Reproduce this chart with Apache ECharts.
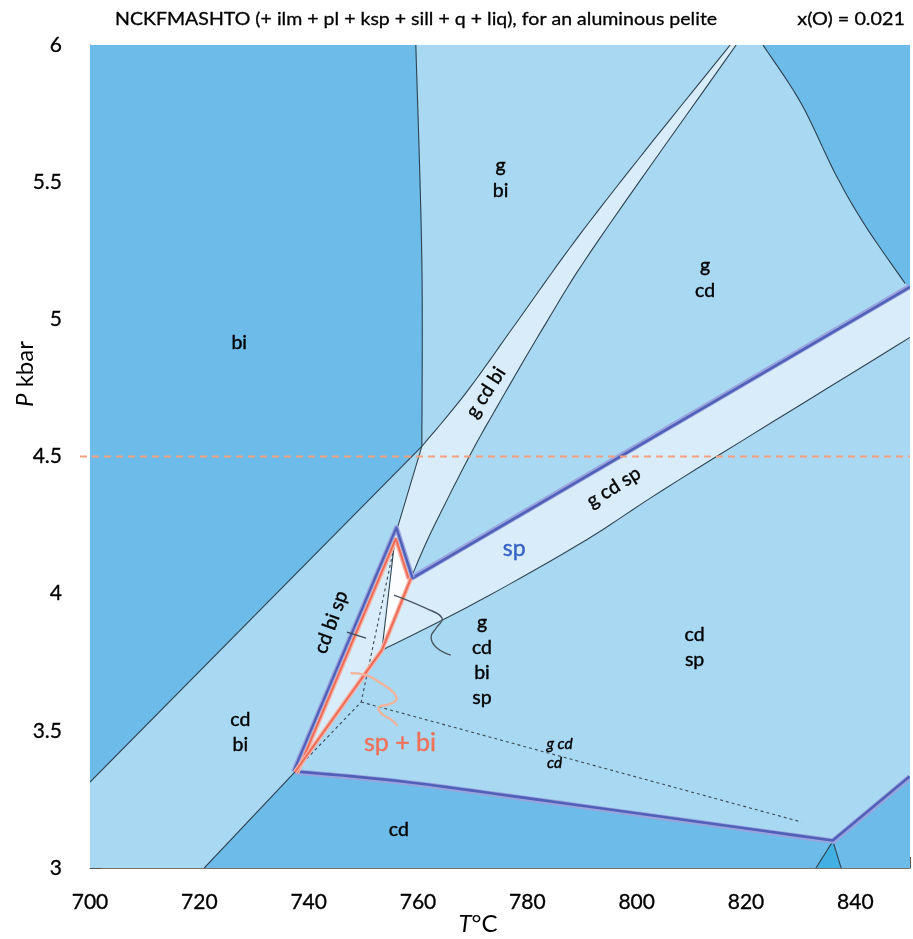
<!DOCTYPE html>
<html><head><meta charset="utf-8">
<script src="https://cdn.jsdelivr.net/npm/echarts@6/dist/echarts.min.js"></script>
<style>html,body{margin:0;padding:0;background:#fff}#c{width:913px;height:939px}</style>
</head><body><div id="c"></div><script>
// ---- axis ticks ----
const xTicks = [700, 720, 740, 760, 780, 800, 820, 840];
const yTicks = [3, 3.5, 4, 4.5, 5, 5.5, 6];

// ---- phase fields, vertices as [T (°C), P (kbar)] ----
const domain = [[700,3],[850,3],[850,6],[700,6]];
const biField = [[700,6],[759.6,6],[760.7,5.215],[760.7,4.537],[700,3.313]];
const gcdbiBand = [[817.1,6],[801.6,5.616],[788.8,5.288],[777.9,4.985],[768.7,4.730],[760.7,4.537],[756.0,4.224],
                   [758.7,4.056],[762.3,4.220],[769.3,4.497],[774.4,4.679],[783.5,4.989],[793.0,5.288],[818.2,6]];
const topRightField = [[850,6],[850,5.12],[849.1,5.131],[841.8,5.342],[836.3,5.532],[830.1,5.787],[823.1,6]];
const gcdspBand = [[758.7,4.056],[850,5.12],[850,4.934],[807.6,4.413],[790.7,4.195],[771.1,3.973],[753.4,3.794]];
const cdField = [[720.9,3],[737.5,3.350],[757.2,3.313],[781.9,3.247],[835.9,3.098],[832.8,3]];
const bottomRightField = [[835.9,3.098],[850,3.332],[850,3],[837.4,3]];
const cyanField = [[832.8,3],[835.9,3.098],[837.4,3]];
const cdbispField = [[756.0,4.224],[753.4,3.794],[737.5,3.350]];
const gcdbispField = [[756.0,4.224],[758.7,4.056],[753.4,3.794]];

// ---- boundaries ----
const biUpperLine = [[759.6,6],[760.7,5.215],[760.7,4.537]];
const biLowerLine = [[700,3.313],[760.7,4.537]];
const bandLeftLine = [[817.1,6],[801.6,5.616],[788.8,5.288],[777.9,4.985],[768.7,4.730],[760.7,4.537],[756.0,4.224]];
const bandRightLine = [[818.2,6],[793.0,5.288],[783.5,4.989],[774.4,4.679],[769.3,4.497],[762.3,4.220],[758.7,4.056]];
const gcdLimitLine = [[823.1,6],[830.1,5.787],[836.3,5.532],[841.8,5.342],[849.1,5.131]];
const spBandLowerLine = [[753.4,3.794],[771.1,3.973],[790.7,4.195],[807.6,4.413],[850,4.934]];
const cdbiLimitLine = [[720.9,3],[737.5,3.350]];
const cyanLine = [[832.8,3],[835.9,3.098],[837.4,3]];
const innerLine = [[755.6,4.169],[753.4,3.794]];
const spUpperLine = [[758.7,4.056],[850,5.12]];
const spLowerLine = [[737.5,3.350],[757.2,3.313],[781.9,3.247],[835.9,3.098],[850,3.332]];
const spApexLine = [[737.5,3.350],[756.0,4.224],[758.7,4.056]];
const spbiInnerLine = [[758.7,4.056],[753.4,3.794],[737.5,3.350]];
const dashedLineA = [[755.6,4.169],[749.6,3.605],[739.0,3.385]];
const dashedLineB = [[749.6,3.605],[830.1,3.168]];
const sectionLine = [[700,4.5],[850,4.5]];
const leaderCdbisp = [[747.0,3.860],[750.5,3.838]];
const leaderGcdbisp = [[755.6,3.995],[761.4,3.947],[764.4,3.911],[763.3,3.874],[762.4,3.842],[763.3,3.805],[766.0,3.776]];
const leaderSpbi = [[747.8,3.710],[750.5,3.703],[752.9,3.678],[755.6,3.638],[756.0,3.612],[754.7,3.597],[752.9,3.587],[753.2,3.565],[755.2,3.539],[756.1,3.521]];

// ---- field labels ----
const labelTexts = ['bi','g\nbi','g\ncd','g cd bi','g cd sp','sp','g\ncd\nbi\nsp','cd\nsp','cd bi sp','cd\nbi','sp + bi','g cd','cd','cd'];
const labelAnchors = [[727.3,4.913],[775.1,5.514],[812.5,5.149],[772.4,4.734],[795.8,4.388],[777.6,4.166],[771.7,3.758],[810.6,3.805],[744.1,3.896],[727.5,3.495],[756.7,3.455],[785.9,3.452],[785.0,3.383],[756.5,3.138]];

// ---------- styling / rendering ----------
const FONT = 'Lato, "DejaVu Sans", sans-serif';
const labelRot   = [0,0,0,57,32,0,0,0,70,0,0,0,0,0];
const labelColor = ['#000','#000','#000','#000','#000','#3563c4','#000','#000','#000','#000','#f0705a','#000','#000','#000'];
const labelSize  = [19.5,19.5,19.5,19.5,19.5,23,19.5,19.5,19.5,19.5,25,15.5,15.5,19.5];
const labelItal  = [0,0,0,0,0,0,0,0,0,0,0,1,1,0];

const C_DARK = '#6dbbe8', C_LIGHT = '#a8d8f2', C_BAND = '#d8edf9', C_WHITE = '#fbfdff', C_CYAN = '#42b0e2';
const C_LINE = '#2f4452';

// Catmull-Rom smoothing of index runs in pixel space (rendering only)
function catmull(pts){
  const out=[pts[0]];
  for (let i=0;i<pts.length-1;i++){
    const p0=pts[Math.max(0,i-1)], p1=pts[i], p2=pts[i+1], p3=pts[Math.min(pts.length-1,i+2)];
    for (let k=1;k<=10;k++){
      const t=k/10, t2=t*t, t3=t2*t;
      out.push([0.5*((2*p1[0])+(-p0[0]+p2[0])*t+(2*p0[0]-5*p1[0]+4*p2[0]-p3[0])*t2+(-p0[0]+3*p1[0]-3*p2[0]+p3[0])*t3),
                0.5*((2*p1[1])+(-p0[1]+p2[1])*t+(2*p0[1]-5*p1[1]+4*p2[1]-p3[1])*t2+(-p0[1]+3*p1[1]-3*p2[1]+p3[1])*t3)]);
    }
  }
  return out;
}
function smoothRuns(pp, runs){
  if (!runs || !runs.length) return pp;
  const out=[]; let i=0;
  runs = runs.slice().sort((a,b)=>a[0]-b[0]);
  for (const [a,b] of runs){
    while (i<a) out.push(pp[i++]);
    const seg = catmull(pp.slice(a,b+1));
    for (const p of seg) out.push(p);
    i=b+1;
  }
  while (i<pp.length) out.push(pp[i++]);
  return out;
}
function polySeries(pts, fill, runs) {
  return {type:'custom', coordinateSystem:'cartesian2d', silent:true, clip:true, z:1, data:pts,
    renderItem(params, api){
      if (params.dataIndex !== 0) return null;
      let pp = [];
      for (let i=0;i<pts.length;i++) pp.push(api.coord([api.value(0,i), api.value(1,i)]));
      pp = smoothRuns(pp, runs);
      return {type:'polygon', shape:{points:pp}, style:{fill:fill, stroke:fill, lineWidth:0.6}};
    }};
}
function intersect(s1, s2){
  const [a,b]=s1,[c,d]=s2;
  const d1x=b[0]-a[0], d1y=b[1]-a[1], d2x=d[0]-c[0], d2y=d[1]-c[1];
  const den = d1x*d2y - d1y*d2x;
  if (Math.abs(den) < 1e-9) return null;
  const t = ((c[0]-a[0])*d2y - (c[1]-a[1])*d2x)/den;
  return [a[0]+t*d1x, a[1]+t*d1y];
}
function offsetPath(P, d){
  if (!d) return P;
  const segs=[];
  for (let i=0;i<P.length-1;i++){
    const dx=P[i+1][0]-P[i][0], dy=P[i+1][1]-P[i][1], L=Math.hypot(dx,dy)||1;
    const nx=dy/L*d, ny=-dx/L*d;
    segs.push([[P[i][0]+nx,P[i][1]+ny],[P[i+1][0]+nx,P[i+1][1]+ny]]);
  }
  const out=[segs[0][0]];
  for (let i=0;i<segs.length-1;i++){ out.push(intersect(segs[i],segs[i+1]) || segs[i][1]); }
  out.push(segs[segs.length-1][1]);
  return out;
}
function lineSeries(pts, st, z){
  return {type:'custom', coordinateSystem:'cartesian2d', silent:true, clip:!st.noclip, z:z||2, data:pts,
    renderItem(params, api){
      if (params.dataIndex !== 0) return null;
      let pp = [];
      for (let i=0;i<pts.length;i++) pp.push(api.coord([api.value(0,i), api.value(1,i)]));
      pp = smoothRuns(pp, st.runs);
      pp = offsetPath(pp, st.offset||0);
      if (st.extendLeft) { pp[0] = [pp[0][0]-st.extendLeft, pp[0][1]]; }
      return {type:'polyline', shape:{points:pp, smooth:st.smooth||0},
        style:{fill:null, stroke:st.color, lineWidth:st.width, lineDash:st.dash||null, lineCap:st.cap||'butt', lineJoin:'round', opacity:st.opacity==null?1:st.opacity}};
    }};
}
function labelSeries(){
  return {type:'custom', coordinateSystem:'cartesian2d', silent:true, clip:false, z:10, data:labelAnchors,
    renderItem(params, api){
      const i = params.dataIndex;
      const p = api.coord([api.value(0), api.value(1)]);
      const sz = labelSize[i];
      return {type:'text', x:p[0], y:p[1], rotation: labelRot[i]*Math.PI/180,
        style:{text:labelTexts[i], fill:labelColor[i], fontSize:sz, fontFamily:FONT,
          fontStyle: labelItal[i] ? 'italic' : 'normal', align:'center', verticalAlign:'middle',
          stroke: labelColor[i], lineWidth: 0.4,
          lineHeight: sz < 17 ? 20 : 25}};
    }};
}

const thinSt = {color:C_LINE, width:1.1};
const thinSm = (r) => ({color:C_LINE, width:1.1, runs:r});
const series = [
  polySeries(domain, C_LIGHT),
  polySeries(biField, C_DARK, [[1,3]]),
  polySeries(topRightField, C_DARK, [[2,6]]),
  polySeries(cdField, C_DARK, [[1,4]]),
  polySeries(bottomRightField, C_DARK),
  polySeries(cyanField, C_CYAN),
  polySeries(gcdbiBand, C_BAND, [[0,5],[7,13]]),
  polySeries(gcdspBand, C_BAND, [[2,6]]),
  polySeries(cdbispField, C_BAND),
  polySeries(gcdbispField, C_WHITE),
  lineSeries(biUpperLine, thinSm([[0,2]])),
  lineSeries(biLowerLine, thinSt),
  lineSeries(bandLeftLine, thinSm([[0,5]])),
  lineSeries(bandRightLine, thinSm([[0,6]])),
  lineSeries(gcdLimitLine, thinSm([[0,4]])),
  lineSeries(spBandLowerLine, thinSm([[0,4]])),
  lineSeries(cdbiLimitLine, thinSt),
  lineSeries(cyanLine, thinSt),
  lineSeries(innerLine, thinSt),
  lineSeries(dashedLineA, {color:'#3c4a55', width:1.1, dash:[3,3]}),
  lineSeries(dashedLineB, {color:'#3c4a55', width:1.1, dash:[3,3]}),
  // thick sp-out lines
  lineSeries(spUpperLine, {color:'#9aa4de', width:5.5}, 3),
  lineSeries(spUpperLine, {color:'#5060b8', width:2.6, offset:-0.6}, 3),
  lineSeries(spLowerLine, {color:'#9aa4de', width:5.5, runs:[[0,3]]}, 3),
  lineSeries(spLowerLine, {color:'#5060b8', width:2.6, offset:0.6, runs:[[0,3]]}, 3),
  lineSeries(spApexLine, {color:'#9aa4de', width:5, offset:1.6}, 3),
  lineSeries(spApexLine, {color:'#5060b8', width:2.3, offset:1.6}, 3),
  // sp + bi field outline (red)
  lineSeries(spApexLine, {color:'#f6b3a6', width:4, offset:-2.6}, 4),
  lineSeries(spApexLine, {color:'#ee6b57', width:2, offset:-2.2}, 4),
  lineSeries(spbiInnerLine, {color:'#f6b3a6', width:4.5}, 4),
  lineSeries(spbiInnerLine, {color:'#ee6b57', width:2}, 4),
  // section line
  lineSeries(sectionLine, {color:'#f5a07e', width:2, dash:[7,5], extendLeft:10, noclip:true}, 5),
  // leaders
  lineSeries(leaderCdbisp, {color:'#3d4a55', width:1.2}, 6),
  lineSeries(leaderGcdbisp, {color:'#4a5762', width:1.4, smooth:0.45}, 6),
  lineSeries(leaderSpbi, {color:'#f3b39b', width:2.3, smooth:0.45, cap:'round'}, 6),
  labelSeries()
];

const axLabel = {fontSize:21, fontFamily:FONT, color:'#000', textBorderColor:'#000', textBorderWidth:0.3};
const chart = echarts.init(document.getElementById('c'), null, {renderer:'canvas'});
chart.setOption({
  animation:false,
  backgroundColor:'#fff',
  grid:{left:90, right:2, top:45, bottom:71, containLabel:false},
  xAxis:[
    {type:'value', min:xTicks[0], max:850, interval:xTicks[1]-xTicks[0], position:'bottom',
     axisLine:{show:true, lineStyle:{color:'#7d7069', width:1}},
     axisTick:{show:true, inside:true, length:11, lineStyle:{color:'#5c5650', width:1}},
     axisLabel:Object.assign({margin:24, formatter:v => xTicks.indexOf(v) >= 0 ? String(v) : ''}, axLabel),
     splitLine:{show:false}},
    {type:'value', min:700, max:850, interval:5, position:'bottom',
     axisLine:{show:false}, axisLabel:{show:false},
     axisTick:{show:true, inside:true, length:6, lineStyle:{color:'#5c5650', width:1}},
     splitLine:{show:false}}
  ],
  yAxis:{type:'value', min:yTicks[0], max:yTicks[yTicks.length-1], interval:yTicks[1]-yTicks[0],
     axisLine:{show:true, lineStyle:{color:'#7d7069', width:1}},
     axisTick:{show:true, inside:true, length:11, lineStyle:{color:'#5c5650', width:1}},
     minorTick:{show:true, splitNumber:5, length:6, lineStyle:{color:'#5c5650', width:1}},
     axisLabel:Object.assign({margin:28}, axLabel),
     splitLine:{show:false}},
  series: series,
  graphic:[
    {type:'text', x:115, y:19, z:100, scaleX:1.085, style:{text:'NCKFMASHTO (+ ilm + pl + ksp + sill + q + liq), for an aluminous pelite',
      fontSize:18, fontFamily:FONT, fill:'#000', stroke:'#000', lineWidth:0.3, align:'left', verticalAlign:'middle'}},
    {type:'text', x:905, y:19, z:100, scaleX:1.1, style:{text:'x(O) = 0.021', fontSize:18, fontFamily:FONT, fill:'#000', stroke:'#000', lineWidth:0.3, align:'right', verticalAlign:'middle'}},
    {type:'text', x:478, y:924, z:100, style:{text:'{i|T}°C', fontSize:24, fontFamily:FONT, fill:'#000', align:'center', verticalAlign:'middle',
      rich:{i:{fontStyle:'italic', fontSize:24, fontFamily:FONT}}}},
    {type:'text', x:25, y:374, rotation:Math.PI/2, z:100, style:{text:'{i|P} kbar', fontSize:24, fontFamily:FONT, fill:'#000', align:'center', verticalAlign:'middle',
      rich:{i:{fontStyle:'italic', fontSize:24, fontFamily:FONT}}}}
  ]
});
</script></body></html>
